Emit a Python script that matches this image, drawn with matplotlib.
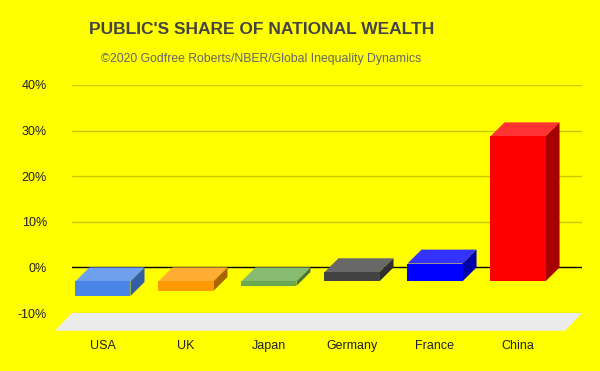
import matplotlib
matplotlib.use("Agg")
import matplotlib.pyplot as plt
from matplotlib.patches import Polygon
from matplotlib import font_manager

countries = ["USA", "UK", "Japan", "Germany", "France", "China"]
share = [-3.2, -2.1, -1.0, 2.0, 3.9, 31.8]  # public share of national wealth, %
front_colors = ["#4a86e8", "#ff9900", "#6aa84f", "#434343", "#0000ff", "#ff0000"]
top_colors = ["#6ea0ee", "#ffad33", "#88bb72", "#686868", "#3333ff", "#ff3333"]
side_colors = ["#335ea3", "#a86500", "#4a7637", "#2f2f2f", "#0000a8", "#a80000"]
yticks = [-10, 0, 10, 20, 30, 40]

plt.rcParams['font.family'] = ['Liberation Sans', 'DejaVu Sans']
BG = "#ffff00"

names = {f.name for f in font_manager.fontManager.ttflist}
narrow = "Liberation Sans Narrow" in names
print("narrow available:", narrow)

fig = plt.figure(figsize=(6, 3.71), dpi=100, facecolor=BG)
# axes = back plane of the 3d chart
ax = fig.add_axes([72/600, 58/371, 510/600, 228/371])
ax.set_facecolor("none")
ax.set_xlim(-0.542, 5.602)
ax.set_ylim(-10, 40)
for s in ax.spines.values():
    s.set_visible(False)

# depth of the bars, in data units (about 14 px)
dx = 0.169
dy = 3.05
w = 0.663

# floor
fdx, fdy = 0.205, 3.9
xl, xr = ax.get_xlim()
ax.add_patch(Polygon([(xl, -10), (xr, -10), (xr - fdx, -10 - fdy), (xl - fdx, -10 - fdy)],
                     closed=True, facecolor="#ececec", edgecolor="none", clip_on=False, zorder=1))

for t in yticks:
    ax.axhline(t, color="black" if t == 0 else "#c8c800", lw=1.0, zorder=2)

xs = list(range(len(countries)))
for x, v, fc, tc, sc in zip(xs, share, front_colors, top_colors, side_colors):
    top = max(v, 0)
    bot = min(v, 0)
    # top face
    ax.add_patch(Polygon([(x - dx - w/2, top - dy), (x - dx + w/2, top - dy),
                          (x + w/2, top), (x - w/2, top)],
                         closed=True, facecolor=tc, edgecolor="none", clip_on=False, zorder=3))
    # side face
    ax.add_patch(Polygon([(x - dx + w/2, top - dy), (x + w/2, top),
                          (x + w/2, bot), (x - dx + w/2, bot - dy)],
                         closed=True, facecolor=sc, edgecolor="none", clip_on=False, zorder=3))
# front faces
ax.bar([x - dx for x in xs], share, bottom=-dy, width=w, color=front_colors,
       zorder=4, clip_on=False)

ax.set_yticks(yticks)
ax.set_yticklabels([f"{t}%" for t in yticks], fontsize=9, color="#222222")
ax.set_xticks([x - dx for x in xs])
ax.set_xticklabels(countries, fontsize=9, color="#222222")
ax.tick_params(axis="y", length=0, pad=18)
ax.tick_params(axis="x", length=0, pad=19.5)

if narrow:
    tfam, tsize, ssize = ["Liberation Sans Narrow", "Liberation Sans"], 15, 10.3
else:
    tfam, tsize, ssize = ["Liberation Sans"], 12.5, 8.8
fig.text(262/600, 1 - 30/371, "PUBLIC'S SHARE OF NATIONAL WEALTH", ha="center", va="center",
         fontsize=tsize, fontweight="bold", color="#444444", family=tfam)
fig.text(261/600, 1 - 59/371, "\u00a92020 Godfree Roberts/NBER/Global Inequality Dynamics",
         ha="center", va="center", fontsize=ssize, color="#666666", family=tfam)

fig.savefig("out.png", dpi=100, facecolor=BG)
